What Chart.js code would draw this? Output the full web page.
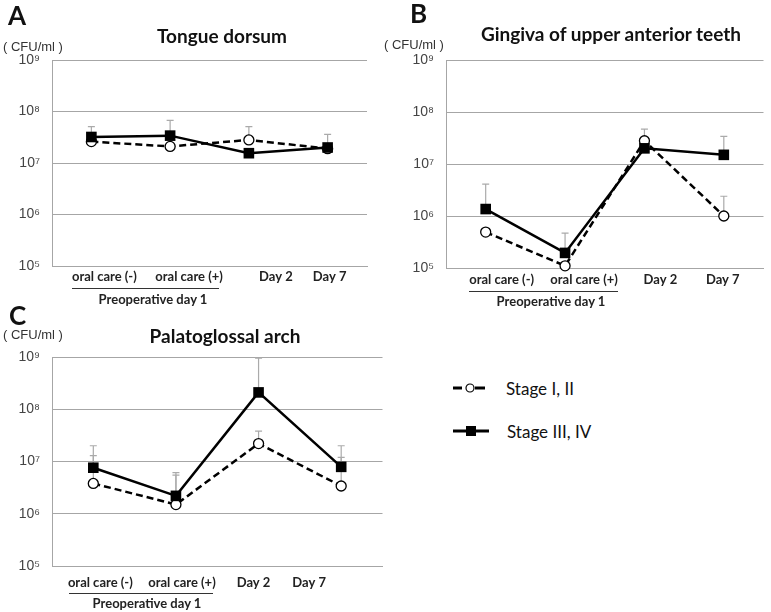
<!DOCTYPE html>
<html>
<head>
<meta charset="utf-8">
<script src="https://cdn.jsdelivr.net/npm/chart.js@4"></script>
<style>
  body { margin: 0; background: #fff; }
  #wrap { position: relative; width: 771px; height: 612px; overflow: hidden; font-family: Lato, "Open Sans", sans-serif; color: #111; }
  .box { position: absolute; }
  .t { position: absolute; line-height: 1; white-space: nowrap; }
  .panel { font-weight: bold; font-size: 26px; }
  .title { font-weight: bold; font-size: 19px; text-align: center; }
  .unit { font-family: "Liberation Sans", Arial, sans-serif; font-size: 13px; color: #333; }
  .preop { font-weight: bold; font-size: 13px; text-align: center; color: #222; }
  .rule { position: absolute; height: 0; border-top: 1px solid #333; }
  .leg { font-size: 17px; }
</style>
</head>
<body>
<div id="wrap">
  <div class="box" style="left:0;top:0;width:390px;height:300px"><canvas id="chartA"></canvas></div>
  <div class="box" style="left:386px;top:0;width:385px;height:300px"><canvas id="chartB"></canvas></div>
  <div class="box" style="left:0;top:300px;width:390px;height:312px"><canvas id="chartC"></canvas></div>

  <div class="t panel" style="left:8px;top:2px">A</div>
  <div class="t panel" style="left:410px;top:0px">B</div>
  <div class="t panel" style="left:9px;top:302px">C</div>

  <div class="t title" style="left:122px;top:26px;width:200px">Tongue dorsum</div>
  <div class="t title" style="left:461px;top:24px;width:300px">Gingiva of upper anterior teeth</div>
  <div class="t title" style="left:125px;top:326px;width:200px">Palatoglossal arch</div>

  <div class="t unit" style="left:3px;top:40px">( CFU/ml )</div>
  <div class="t unit" style="left:384px;top:38px">( CFU/ml )</div>
  <div class="t unit" style="left:3px;top:328px">( CFU/ml )</div>

  <div class="rule" style="left:72px;top:288px;width:147px"></div>
  <div class="t preop" style="left:93px;top:293px;width:120px">Preoperative day 1</div>
  <div class="rule" style="left:469px;top:291px;width:149px"></div>
  <div class="t preop" style="left:491px;top:295px;width:120px">Preoperative day 1</div>
  <div class="rule" style="left:69px;top:593px;width:144px"></div>
  <div class="t preop" style="left:87px;top:597px;width:120px">Preoperative day 1</div>

  <!-- legend -->
  <svg class="box" style="left:448px;top:378px" width="50" height="64">
    <line x1="5" y1="10" x2="14" y2="10" stroke="#000" stroke-width="3"/>
    <line x1="27" y1="10" x2="37" y2="10" stroke="#000" stroke-width="3"/>
    <circle cx="22" cy="10" r="4" fill="#fff" stroke="#000" stroke-width="1.2"/>
    <line x1="5" y1="53" x2="41" y2="53" stroke="#000" stroke-width="3"/>
    <rect x="18" y="48" width="10" height="10" fill="#000"/>
  </svg>
  <div class="t leg" style="left:506px;top:380px">Stage I, II</div>
  <div class="t leg" style="left:507px;top:423px">Stage III, IV</div>
</div>

<script>
// x categories and log axis ticks
const categories = ['oral care (-)', 'oral care (+)', 'Day 2', 'Day 7'];
const yTickValues = [1e5, 1e6, 1e7, 1e8, 1e9];
const yTickLabels = ['10⁵', '10⁶', '10⁷', '10⁸', '10⁹'];

// A: Tongue dorsum
const tongueEarly = [2.6e7, 2.1e7, 2.8e7, 1.9e7];
const tongueLate = [3.2e7, 3.4e7, 1.55e7, 2.0e7];
const tongueEarlyErr = [null, null, 5.1e7, null];
const tongueLateErr = [5.1e7, 6.7e7, null, 3.6e7];

// B: Gingiva of upper anterior teeth
const gingivaEarly = [4.9e5, 1.1e5, 2.8e7, 1.0e6];
const gingivaLate = [1.36e6, 1.95e5, 2.0e7, 1.5e7];
const gingivaEarlyErr = [null, null, null, 2.4e6];
const gingivaLateErr = [4.1e6, 4.7e5, 4.7e7, 3.4e7];

// C: Palatoglossal arch
const palatEarly = [3.8e6, 1.5e6, 2.2e7, 3.4e6];
const palatLate = [7.6e6, 2.2e6, 2.1e8, 7.9e6];
const palatEarlyErr = [1.3e7, 5.5e6, 3.8e7, 1.2e7];
const palatLateErr = [2.0e7, 6.1e6, 9.5e8, 2.0e7];

// upper error bars, drawn under the lines
const errorBars = {
    id: 'errorBars',
    beforeDatasetsDraw(chart) {
        const ctx = chart.ctx;
        const y = chart.scales.y;
        chart.data.datasets.forEach((ds, i) => {
            const meta = chart.getDatasetMeta(i);
            (ds.errTop || []).forEach((top, j) => {
                if (top == null) return;
                const pt = meta.data[j];
                const yt = y.getPixelForValue(top);
                ctx.save();
                ctx.strokeStyle = '#aaa';
                ctx.lineWidth = 1.2;
                ctx.beginPath();
                ctx.moveTo(pt.x, pt.y);
                ctx.lineTo(pt.x, yt);
                ctx.moveTo(pt.x - 3.5, yt);
                ctx.lineTo(pt.x + 3.5, yt);
                ctx.stroke();
                ctx.restore();
            });
        });
    }
};

// category labels, hand-shifted like the original figure
const xLabels = {
    id: 'xLabels',
    afterDraw(chart, args, opts) {
        const x = chart.scales.x;
        const ctx = chart.ctx;
        ctx.save();
        ctx.font = 'bold 13px Lato';
        ctx.fillStyle = '#222';
        ctx.textAlign = 'center';
        ctx.textBaseline = 'middle';
        categories.forEach((c, i) => {
            ctx.fillText(c, x.getPixelForTick(i) + opts.shift[i], chart.chartArea.bottom + opts.dy);
        });
        ctx.restore();
    }
};

function makeChart(id, early, late, earlyErr, lateErr, lay) {
    const ctx = document.getElementById(id).getContext('2d');
    return new Chart(ctx, {
        type: 'line',
        data: {
            labels: categories,
            datasets: [{
                label: 'Stage I, II',
                data: early,
                errTop: earlyErr,
                borderColor: '#000',
                borderWidth: 2.5,
                borderDash: [7, 4],
                pointStyle: 'circle',
                pointRadius: 5,
                pointBackgroundColor: '#fff',
                pointBorderColor: '#000',
                pointBorderWidth: 1.3,
                order: 2,
                clip: false
            }, {
                label: 'Stage III, IV',
                data: late,
                errTop: lateErr,
                borderColor: '#000',
                borderWidth: 2.5,
                pointStyle: 'rect',
                pointRadius: 7.5,
                pointBackgroundColor: '#000',
                pointBorderColor: '#000',
                pointBorderWidth: 0,
                order: 1,
                clip: false
            }]
        },
        options: {
            responsive: true,
            maintainAspectRatio: false,
            animation: false,
            layout: { padding: { top: lay.top, right: lay.right, bottom: 0, left: 0 } },
            plugins: {
                legend: { display: false },
                tooltip: { enabled: false },
                xLabels: { shift: lay.shift, dy: lay.dy }
            },
            scales: {
                x: {
                    offset: true,
                    grid: { display: false, drawTicks: false },
                    border: { display: true, color: '#a6a6a6' },
                    ticks: { display: false },
                    afterFit: s => { s.height = lay.xH; }
                },
                y: {
                    type: 'logarithmic',
                    min: 1e5,
                    max: 1e9,
                    grid: { color: '#a6a6a6', lineWidth: 1, drawTicks: false },
                    border: { display: true, color: '#a6a6a6' },
                    afterBuildTicks: s => { s.ticks = yTickValues.map(v => ({ value: v })); },
                    ticks: {
                        padding: 12,
                        color: '#444',
                        font: { family: 'Liberation Sans', size: 14 },
                        callback: v => yTickLabels[yTickValues.indexOf(v)]
                    },
                    afterFit: s => { s.width = lay.yW; }
                }
            }
        },
        plugins: [errorBars, xLabels]
    });
}

makeChart('chartA', tongueEarly, tongueLate, tongueEarlyErr, tongueLateErr,
    { top: 60, right: 23, xH: 34, yW: 52, dy: 11, shift: [13, 19, 27, 2] });
makeChart('chartB', gingivaEarly, gingivaLate, gingivaEarlyErr, gingivaLateErr,
    { top: 60, right: 1, xH: 32, yW: 60, dy: 12, shift: [16, 19, 16, -1] });
makeChart('chartC', palatEarly, palatLate, palatEarlyErr, palatLateErr,
    { top: 57, right: 5, xH: 46, yW: 52, dy: 17, shift: [7, 6, -5, -32] });
</script>
</body>
</html>
